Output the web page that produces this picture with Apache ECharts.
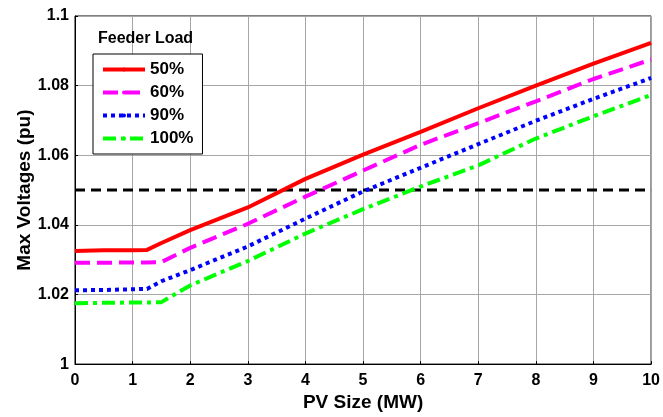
<!DOCTYPE html>
<html>
<head>
<meta charset="utf-8">
<script src="https://cdn.jsdelivr.net/npm/echarts@6/dist/echarts.min.js"></script>
<style>
  html, body { margin: 0; padding: 0; background: #fff; }
  #chart-container { width: 663px; height: 417px; }
</style>
</head>
<body>
<div id="chart-container"></div>
<script>
var dom = document.getElementById('chart-container');
var myChart = echarts.init(dom, null, { renderer: 'canvas' });

// PV size (MW)
const pvSize = [0, 0.5, 1, 1.25, 1.5, 2, 3, 4, 5, 6, 7, 8, 9, 10];

// max voltages (pu) per feeder load
const load50 = [1.0325, 1.0327, 1.0327, 1.0328, 1.0348, 1.0385, 1.0450, 1.0532, 1.0602, 1.0667, 1.0735, 1.0800, 1.0863, 1.0923];
const load60 = [1.0291, 1.0291, 1.0292, 1.0292, 1.0293, 1.0334, 1.0403, 1.0481, 1.0556, 1.0630, 1.0692, 1.0755, 1.0819, 1.0875];
const load90 = [1.0212, 1.0213, 1.0215, 1.0216, 1.0238, 1.0270, 1.0338, 1.0418, 1.0496, 1.0564, 1.0632, 1.0699, 1.0762, 1.0822];
const load100 = [1.0175, 1.0176, 1.0177, 1.0177, 1.0178, 1.0226, 1.0296, 1.0375, 1.0445, 1.0510, 1.0571, 1.0648, 1.0712, 1.0773];

const limitX = [0, 10];
const limitV = [1.05, 1.05];

const seriesNames = ['50%', '60%', '90%', '100%'];

function pairs(xs, ys) {
    return xs.map(function (x, i) { return [x, ys[i]]; });
}

const font = 'Liberation Sans, Arial, sans-serif';

function curve(name, values, color, dash) {
    return {
        name: name,
        type: 'line',
        symbol: 'circle',
        showSymbol: false,
        data: pairs(pvSize, values),
        lineStyle: { color: color, width: 4, type: dash, cap: 'butt' },
        itemStyle: { color: color },
        z: 3
    };
}

var option = {
    animation: false,
    backgroundColor: '#fff',
    title: {
        text: 'Feeder Load',
        left: 93,
        top: 26,
        textStyle: { fontFamily: font, fontWeight: 'bold', fontSize: 16, color: '#000' }
    },
    legend: {
        data: seriesNames,
        orient: 'vertical',
        left: 93,
        top: 54,
        padding: [7, 9, 7, 8],
        itemWidth: 42,
        itemHeight: 5,
        itemGap: 6,
        backgroundColor: '#fff',
        borderColor: '#000',
        borderWidth: 1,
        borderRadius: 0,
        lineStyle: { width: 4 },
        textStyle: { fontFamily: font, fontWeight: 'bold', fontSize: 17, color: '#000' }
    },
    grid: {
        left: 75,
        right: 8,
        top: 16,
        bottom: 45,
        show: true,
        borderColor: '#000',
        borderWidth: 1
    },
    xAxis: {
        type: 'value',
        min: 0,
        max: 10,
        interval: 1,
        name: 'PV Size (MW)',
        nameLocation: 'middle',
        nameGap: 22,
        nameTextStyle: { fontFamily: font, fontWeight: 'bold', fontSize: 19, color: '#000' },
        axisLine: { onZero: false, lineStyle: { color: '#000', width: 1 } },
        axisTick: { inside: true, length: 3, lineStyle: { color: '#000' } },
        axisLabel: { margin: 8, fontFamily: font, fontWeight: 'bold', fontSize: 16, color: '#000' },
        splitLine: { show: true, lineStyle: { color: '#a6a6a6', width: 1 } }
    },
    yAxis: {
        type: 'value',
        min: 1,
        max: 1.1,
        interval: 0.02,
        name: 'Max Voltages (pu)',
        nameLocation: 'middle',
        nameGap: 41,
        nameMoveOverlap: false,
        nameTextStyle: { fontFamily: font, fontWeight: 'bold', fontSize: 19, color: '#000' },
        axisLine: { onZero: false, lineStyle: { color: '#000', width: 1 } },
        axisTick: { inside: true, length: 3, lineStyle: { color: '#000' } },
        axisLabel: {
            margin: 6,
            fontFamily: font,
            fontWeight: 'bold',
            fontSize: 16,
            color: '#000',
            formatter: function (v) { return String(+v.toFixed(2)); }
        },
        splitLine: { show: true, lineStyle: { color: '#a6a6a6', width: 1 } }
    },
    series: [
        curve('50%', load50, '#ff0000', 'solid'),
        curve('60%', load60, '#ff00ff', [15, 7]),
        curve('90%', load90, '#0000ff', [4, 4]),
        curve('100%', load100, '#00ff00', [13, 5, 4, 5]),
        {
            name: 'limit',
            type: 'line',
            symbol: 'none',
            data: pairs(limitX, limitV),
            lineStyle: { color: '#000', width: 3, type: [10, 6], cap: 'butt' },
            z: 2
        }
    ]
};

myChart.setOption(option);
window.addEventListener('resize', myChart.resize);
</script>
</body>
</html>
